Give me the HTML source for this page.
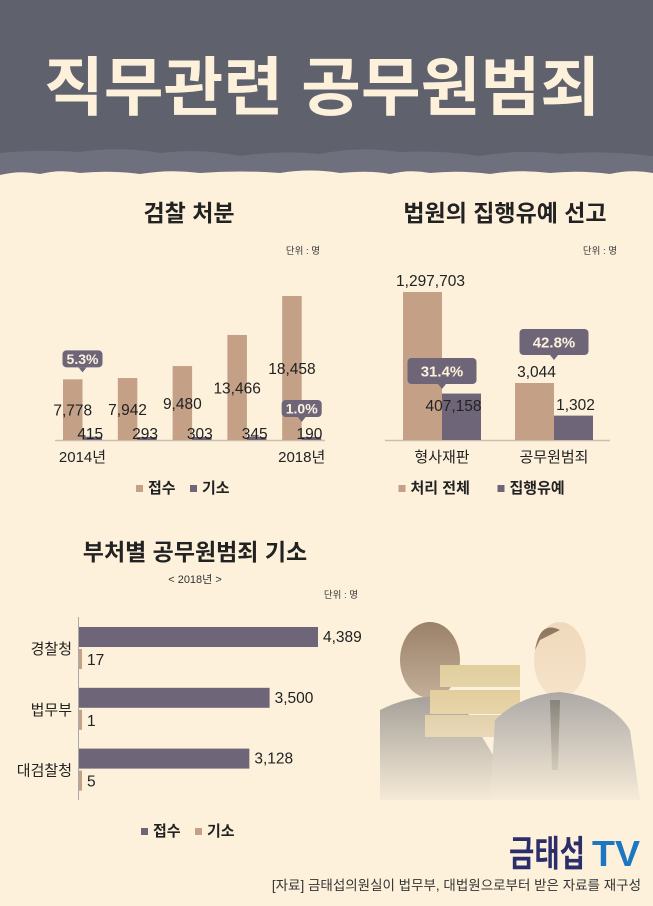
<!DOCTYPE html>
<html><head><meta charset="utf-8">
<style>
html,body{margin:0;padding:0}
body{width:653px;height:906px;background:#fdf1dc;position:relative;overflow:hidden;font-family:"Liberation Sans","Noto Sans CJK KR",sans-serif;color:#222}
svg{position:absolute;left:0;top:0}
</style></head>
<body>
<svg width="653" height="906" viewBox="0 0 653 906">
  <defs>
    <linearGradient id="fade" x1="0" y1="0" x2="0" y2="1">
      <stop offset="0" stop-color="#fdf1dc" stop-opacity="0"/>
      <stop offset="1" stop-color="#fdf1dc" stop-opacity="1"/>
    </linearGradient>
  </defs>
  <g>
    <rect x="0" y="0" width="653" height="175" fill="#5f626c"/>
    <path d="M0 153 Q40 149 80 152 Q120 146 160 153 Q200 148 240 156 Q280 150 320 154 Q360 146 400 152 Q440 150 480 156 Q520 149 560 154 Q600 150 653 156 L653 175 L0 175Z" fill="#6e717d"/>
    <path d="M0 175 Q20 170 40 174 Q60 169 80 173 Q110 170 140 174 Q170 169 200 173 Q240 170 280 173 Q310 168 340 173 Q370 170 390 174 Q410 169 430 173 Q460 170 490 174 Q520 169 550 173 Q580 170 610 174 Q630 169 653 173 L653 190 L0 190Z" fill="#fdf1dc"/>
    <text x="322" y="110" text-anchor="middle" font-size="64" font-weight="bold" fill="#fdf1dc" textLength="556" lengthAdjust="spacingAndGlyphs">직무관련 공무원범죄</text>
  </g>
  <g id="c1"></g>
  <g id="c2"></g>
  <g id="c3"></g>
  <g>
    <ellipse cx="430" cy="660" rx="30" ry="38" fill="#9a8068"/>
    <path d="M380 710 Q420 690 460 700 L520 800 L380 800Z" fill="#6b6a6c"/>
    <rect x="440" y="665" width="80" height="22" fill="#d8c48a"/>
    <rect x="430" y="690" width="90" height="24" fill="#d2b978"/>
    <rect x="425" y="715" width="80" height="22" fill="#c8b07a"/>
    <ellipse cx="560" cy="660" rx="26" ry="38" fill="#f0d9bc"/>
    <path d="M560 630 Q540 620 535 650 L540 640Z" fill="#8a7058"/>
    <path d="M495 720 Q520 695 560 692 Q610 698 630 730 L640 800 L490 800Z" fill="#7c7d86"/>
    <path d="M550 700 L560 700 L558 770 L552 770Z" fill="#333"/>
    <rect x="370" y="620" width="283" height="190" fill="url(#fade)"/>
  </g>
  <g>
    <text x="509" y="866" font-size="36" font-weight="bold" fill="#2c2d6b" textLength="76" lengthAdjust="spacingAndGlyphs">금태섭</text>
    <text x="592" y="866" font-size="36" font-weight="bold" fill="#1b77c1" textLength="48" lengthAdjust="spacingAndGlyphs">TV</text>
  </g>
  <text x="641" y="890" text-anchor="end" font-size="13.5" fill="#333">[자료] 금태섭의원실이 법무부, 대법원으로부터 받은 자료를 재구성</text>
</svg>
<script>
const NS='http://www.w3.org/2000/svg';
const BEIGE='#c4a086', PURPLE='#6e6678';
function mk(parent,tag,attrs,text){const e=document.createElementNS(NS,tag);for(const k in attrs)e.setAttribute(k,attrs[k]);if(text!==undefined)e.textContent=text;parent.appendChild(e);return e;}
function fmt(v){return v.toLocaleString('en-US');}

// ---------- Chart 1 data ----------
const years=['2014년','2015년','2016년','2017년','2018년'];
const receipts=[7778,7942,9480,13466,18458];
const indictments=[415,293,303,345,190];
const rates1=['5.3%','','','','1.0%'];

// ---------- Chart 2 data ----------
const courtCats=['형사재판','공무원범죄'];
const courtTotal=[1297703,3044];
const courtSuspended=[407158,1302];
const courtRates=['31.4%','42.8%'];

// ---------- Chart 3 data ----------
const ministries=['경찰청','법무부','대검찰청'];
const minReceipts=[4389,3500,3128];
const minIndict=[17,1,5];

function callout(g,cx,bottom,w,h,label,fs){
  const b=mk(g,'g',{});
  
  
  mk(b,'rect',{x:cx-w/2,y:bottom-h,width:w,height:h,rx:4,fill:PURPLE});
  mk(b,'path',{d:`M${cx-4} ${bottom} L${cx} ${bottom+5} L${cx+4} ${bottom}Z`,fill:PURPLE});
  mk(b,'text',{x:cx,y:bottom-h/2+fs*0.36,'text-anchor':'middle','font-size':fs,'font-weight':'bold',fill:'#fdf1dc'},label);
}
function legend(g,cx,y,items){
  let x=cx-items.reduce((s,i)=>s+i[0].length*15+24,0)/2;
  items.forEach(([lab,col])=>{
    const it=mk(g,'g',{});
    
    
    mk(it,'rect',{x:x,y:y-8,width:7,height:7,fill:col});
    mk(it,'text',{x:x+12,y:y,'font-size':15,'font-weight':'bold',fill:'#222'},lab);
    x+=lab.length*15+24;
  });
}

// Chart 1
(function(){
  const g=document.getElementById('c1');
  const base=440, maxH=144, maxV=Math.max(...receipts);
  const y=v=>base-Math.max(3,v/maxV*maxH);
  const x0=63, step=54.8, bw=19.5;
  mk(g,'text',{x:189,y:221,'text-anchor':'middle','font-size':23,'font-weight':'bold',fill:'#222'},'검찰 처분');
  mk(g,'text',{x:320,y:254,'text-anchor':'end','font-size':9.5,fill:'#333'},'단위 : 명');
  mk(g,'line',{x1:55,y1:base+0.5,x2:325,y2:base+0.5,stroke:'#cdbfae','stroke-width':1.5});
  years.forEach((yr,i)=>{
    const x=x0+i*step;
    const r=mk(g,'rect',{x:x,y:y(receipts[i]),width:bw,height:base-y(receipts[i]),fill:BEIGE});
    
    
    const d=mk(g,'rect',{x:x+bw,y:y(indictments[i]),width:bw,height:base-y(indictments[i]),fill:PURPLE});
    
    
    const mid=(y(receipts[i])+base)/2;
    mk(g,'text',{x:x+bw/2,y:mid+6,'text-anchor':'middle','font-size':15.5,fill:'#222'},fmt(receipts[i]));
    mk(g,'text',{x:x+bw*1.5-2,y:base-1,'text-anchor':'middle','font-size':15.5,fill:'#222'},fmt(indictments[i]));
    if(i===0||i===years.length-1) mk(g,'text',{x:x+bw,y:462,'text-anchor':'middle','font-size':15,fill:'#222'},yr);
    if(rates1[i]){
      if(i===0) callout(g,x+bw,y(receipts[i])-12,40,17,rates1[i],14);
      else callout(g,x+bw,base-23,40,17,rates1[i],14);
    }
  });
  legend(g,190,493,[['접수',BEIGE],['기소',PURPLE]]);
})();

// Chart 2
(function(){
  const g=document.getElementById('c2');
  const base=440, groupH=[148,57];
  mk(g,'text',{x:505,y:221,'text-anchor':'middle','font-size':23,'font-weight':'bold',fill:'#222'},'법원의 집행유예 선고');
  mk(g,'text',{x:617,y:254,'text-anchor':'end','font-size':9.5,fill:'#333'},'단위 : 명');
  mk(g,'line',{x1:385,y1:base+0.5,x2:610,y2:base+0.5,stroke:'#cdbfae','stroke-width':1.5});
  const xs=[403,515], bw=39;
  courtCats.forEach((c,i)=>{
    const s=groupH[i]/courtTotal[i];
    const h1=courtTotal[i]*s, h2=courtSuspended[i]*s, x=xs[i];
    const r=mk(g,'rect',{x:x,y:base-h1,width:bw,height:h1,fill:BEIGE});
    
    
    const d=mk(g,'rect',{x:x+bw,y:base-h2,width:bw,height:h2,fill:PURPLE});
    
    
    mk(g,'text',{x:x+bw/2+(i?2:8),y:base-h1-6,'text-anchor':'middle','font-size':15.5,fill:'#222'},fmt(courtTotal[i]));
    mk(g,'text',{x:x+bw*1.5-(i?-2:8),y:i?410:411,'text-anchor':'middle','font-size':15.5,fill:'#222'},fmt(courtSuspended[i]));
    mk(g,'text',{x:x+bw,y:462,'text-anchor':'middle','font-size':15,fill:'#222'},c);
    callout(g,x+bw,i?355:384,69,26,courtRates[i],15);
  });
  legend(g,490,493,[['처리 전체',BEIGE],['집행유예',PURPLE]]);
})();

// Chart 3
(function(){
  const g=document.getElementById('c3');
  const x0=79, maxW=239, maxV=Math.max(...minReceipts);
  const w=v=>Math.max(3,v/maxV*maxW);
  mk(g,'text',{x:195,y:560,'text-anchor':'middle','font-size':23,'font-weight':'bold',fill:'#222'},'부처별 공무원범죄 기소');
  mk(g,'text',{x:195,y:583,'text-anchor':'middle','font-size':11,fill:'#333'},'< 2018년 >');
  mk(g,'text',{x:358,y:598,'text-anchor':'end','font-size':9.5,fill:'#333'},'단위 : 명');
  mk(g,'line',{x1:78.5,y1:617,x2:78.5,y2:800,stroke:'#aaa','stroke-width':1});
  ministries.forEach((m,i)=>{
    const y=627+i*60.8;
    const r=mk(g,'rect',{x:x0,y:y,width:w(minReceipts[i]),height:20,fill:PURPLE});
    
    
    const d=mk(g,'rect',{x:x0,y:y+22,width:w(minIndict[i]),height:20,fill:BEIGE});
    
    
    mk(g,'text',{x:x0+w(minReceipts[i])+5,y:y+15,'font-size':15.5,fill:'#222'},fmt(minReceipts[i]));
    mk(g,'text',{x:x0+8,y:y+38,'font-size':15.5,fill:'#222'},fmt(minIndict[i]));
    mk(g,'text',{x:72,y:y+27,'text-anchor':'end','font-size':15,fill:'#222'},m);
  });
  legend(g,195,836,[['접수',PURPLE],['기소',BEIGE]]);
})();
</script>
</body></html>
